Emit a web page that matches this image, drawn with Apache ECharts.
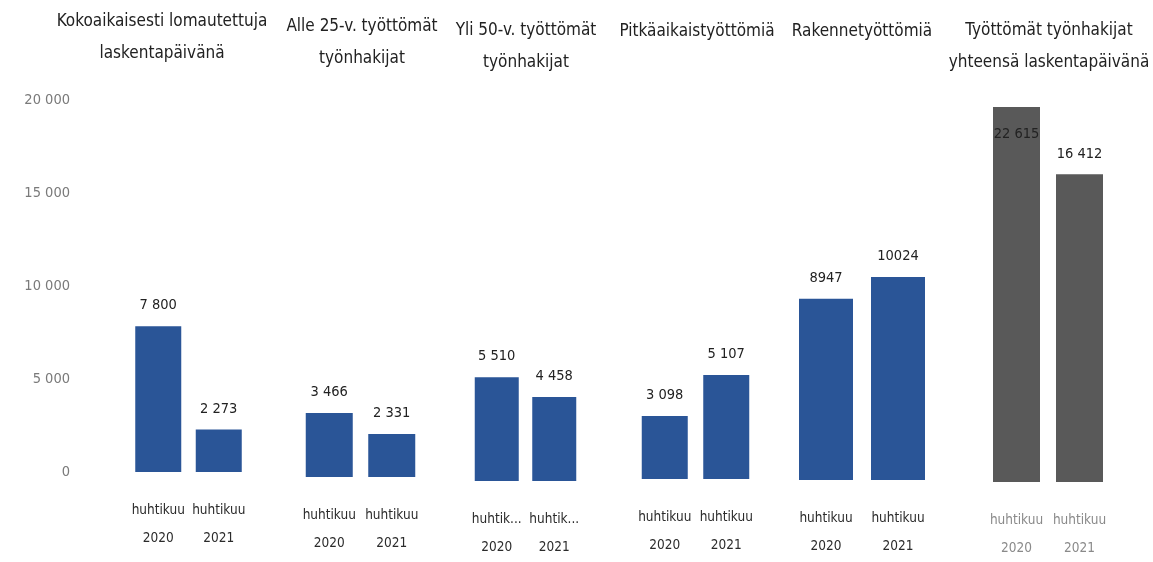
<!DOCTYPE html>
<html><head><meta charset="utf-8">
<script src="https://cdn.jsdelivr.net/npm/echarts@6/dist/echarts.min.js"></script>
<style>html,body{margin:0;padding:0;background:#fff}#c{width:1153px;height:562px}</style>
</head><body><div id="c"></div>
<script>
const categories = ['huhtikuu\n2020', 'huhtikuu\n2021'];
const panelTitles = [
  'Kokoaikaisesti lomautettuja\nlaskentapäivänä',
  'Alle 25-v. työttömät\ntyönhakijat',
  'Yli 50-v. työttömät\ntyönhakijat',
  'Pitkäaikaistyöttömiä',
  'Rakennetyöttömiä',
  'Työttömät työnhakijat\nyhteensä laskentapäivänä'
];
const lomautetut = [7800, 2273];
const alle25 = [3466, 2331];
const yli50 = [5510, 4458];
const pitkaaikais = [3098, 5107];
const rakenne = [8947, 10024];
const yhteensa = [22615, 16412];
const yTicks = [0, 5000, 10000, 15000, 20000];

const FONT = "'Liberation Sans Narrow','DejaVu Sans Condensed','Roboto Condensed','Liberation Sans',sans-serif";
const seriesData = [lomautetut, alle25, yli50, pitkaaikais, rakenne, yhteensa];
const layout = [
  {left: 128, width: 121, top: 98, base: 472, bw: 46, tx: 162, ty: 38},
  {left: 298, width: 125, top: 108, base: 477, bw: 47, tx: 362, ty: 43},
  {left: 468, width: 115, top: 104, base: 481, bw: 44, tx: 526, ty: 47},
  {left: 634, width: 123, top: 72, base: 479, bw: 46, tx: 697, ty: 32},
  {left: 790, width: 144, top: 75, base: 480, bw: 54, tx: 862, ty: 32},
  {left: 985, width: 126, top: 107, base: 488, bw: 47, tx: 1049, ty: 47}
];
const noSep = [false, false, false, false, true, false];
const truncated = [false, false, true, false, false, false];
const fmt = (v, plain) => plain ? String(v) : String(v).replace(/\B(?=(\d{3})+(?!\d))/g, ' ');
const shorten = s => s.split('\n').map((line, k) => k === 0 && line.length > 6 ? line.slice(0, 6) + '...' : line).join('\n');

const grids = [{left: 78, width: 10, top: 100, height: 372}];
const xAxes = [{gridIndex: 0, type: 'category', data: [], show: false}];
const yAxes = [{gridIndex: 0, type: 'value', min: yTicks[0], max: yTicks[yTicks.length - 1], interval: 5000,
  splitLine: {show: false}, axisLine: {show: false}, axisTick: {show: false},
  axisLabel: {fontFamily: FONT, fontSize: 14.5, color: '#7a7a7a', margin: 8, formatter: v => fmt(v)}}];
const series = [];
const graphics = [];
layout.forEach((L, i) => {
  const gi = i + 1;
  grids.push({left: L.left, width: L.width, top: L.top, height: L.base - L.top});
  const last = i === 5;
  xAxes.push({gridIndex: gi, type: 'category', data: categories,
    axisLine: {show: false}, axisTick: {show: false},
    axisLabel: {fontFamily: FONT, fontSize: 13.5, lineHeight: 28, margin: 24, interval: 0,
      color: last ? '#8a8a8a' : '#2b2b2b', formatter: s => truncated[i] ? shorten(s) : s}});
  yAxes.push({gridIndex: gi, type: 'value', min: 0, max: 20000, show: false, splitLine: {show: false}});
  const data = seriesData[i].map(v => {
    const d = {value: v};
    if (last && v > 20000) d.label = {position: 'insideTop', distance: 20};
    return d;
  });
  series.push({type: 'bar', xAxisIndex: gi, yAxisIndex: gi, data: data, barWidth: L.bw, clip: true,
    itemStyle: {color: last ? '#595959' : '#2a5597'},
    label: {show: true, position: 'top', distance: 13, fontFamily: FONT, fontSize: 14.5, color: '#222',
      formatter: p => fmt(p.value, noSep[i])}});
  graphics.push({type: 'text', x: L.tx, y: L.ty, style: {text: panelTitles[i], align: 'center', verticalAlign: 'middle',
    fontFamily: FONT, fontSize: 17, lineHeight: 32, fill: '#222'}});
});

const chart = echarts.init(document.getElementById('c'), null, {renderer: 'canvas'});
chart.setOption({
  backgroundColor: '#ffffff',
  animation: false,
  grid: grids, xAxis: xAxes, yAxis: yAxes, series: series, graphic: graphics
});
</script></body></html>
